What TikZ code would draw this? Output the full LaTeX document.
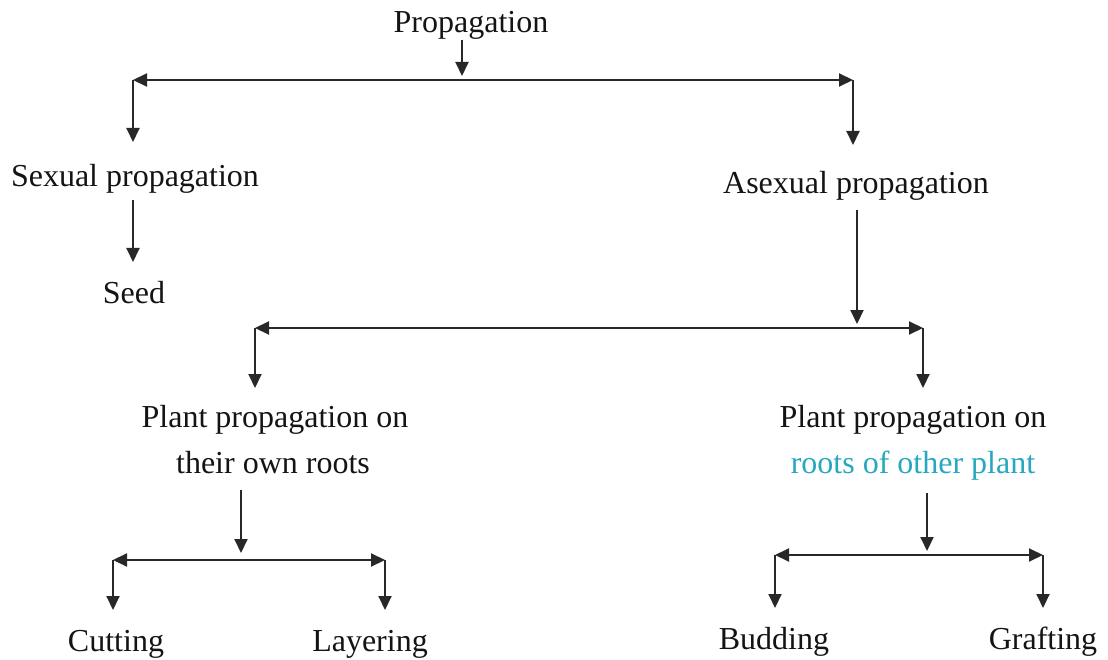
\documentclass[tikz,border=0pt]{standalone}
\usepackage{fontspec}
\setmainfont{Liberation Serif}
\usetikzlibrary{arrows.meta}
\definecolor{tealtext}{RGB}{38,168,192}
\definecolor{linegray}{RGB}{40,40,40}
\begin{document}
\begin{tikzpicture}[x=1pt,y=-1pt,
  lbl/.style={anchor=base,inner sep=0pt,font=\fontsize{32}{38}\selectfont,text=black!92},
  arr/.style={draw=linegray,line width=2pt,-{Triangle[length=14pt,width=13pt]}},
  bar/.style={draw=linegray,line width=2pt,{Triangle[length=14pt,width=13pt]}-{Triangle[length=14pt,width=13pt]}}]
\useasboundingbox[fill=white] (0,0) rectangle (1108,660);
% texts
\node[lbl] (prop) at (471,33) {Propagation};
\node[lbl] (sex) at (135,187) {Sexual propagation};
\node[lbl] (asex) at (856,194) {Asexual propagation};
\node[lbl] (seed) at (134,304) {Seed};
\node[lbl] (own1) at (275,427) {Plant propagation on};
\node[lbl] (own2) at (273,473) {their own roots};
\node[lbl] (oth1) at (913,427) {Plant propagation on};
\node[lbl,text=tealtext] (oth2) at (913,473) {roots of other plant};
\node[lbl] (cut) at (116,651) {Cutting};
\node[lbl] (lay) at (370,651) {Layering};
\node[lbl] (bud) at (774,649) {Budding};
\node[lbl] (gra) at (1043,649) {Grafting};
% coordinates
\coordinate (p0) at (462,40);   \coordinate (p1) at (462,76);
\coordinate (b1l) at (133,80);  \coordinate (b1r) at (853,80);
\coordinate (s0) at (133,142);  \coordinate (a0) at (853,145);
\coordinate (s1) at (133,200);  \coordinate (s2) at (133,262);
\coordinate (a1) at (857,210);  \coordinate (a2) at (857,324);
\coordinate (b2l) at (255,328); \coordinate (b2r) at (923,328);
\coordinate (o0) at (255,388);  \coordinate (t0) at (923,388);
\coordinate (o1) at (241,490);  \coordinate (o2) at (241,553);
\coordinate (b3l) at (113,560); \coordinate (b3r) at (385,560);
\coordinate (c0) at (113,610);  \coordinate (l0) at (385,610);
\coordinate (t1) at (927,493);  \coordinate (t2) at (927,551);
\coordinate (b4l) at (775,555); \coordinate (b4r) at (1043,555);
\coordinate (bu0) at (775,608); \coordinate (g0) at (1043,608);
% connectors
\draw[arr] (p0) -- (p1);
\draw[bar] (b1l) -- (b1r);
\draw[arr] (b1l) -- (s0);
\draw[arr] (b1r) -- (a0);
\draw[arr] (s1) -- (s2);
\draw[arr] (a1) -- (a2);
\draw[bar] (b2l) -- (b2r);
\draw[arr] (b2l) -- (o0);
\draw[arr] (b2r) -- (t0);
\draw[arr] (o1) -- (o2);
\draw[bar] (b3l) -- (b3r);
\draw[arr] (b3l) -- (c0);
\draw[arr] (b3r) -- (l0);
\draw[arr] (t1) -- (t2);
\draw[bar] (b4l) -- (b4r);
\draw[arr] (b4l) -- (bu0);
\draw[arr] (b4r) -- (g0);
\end{tikzpicture}
\end{document}
